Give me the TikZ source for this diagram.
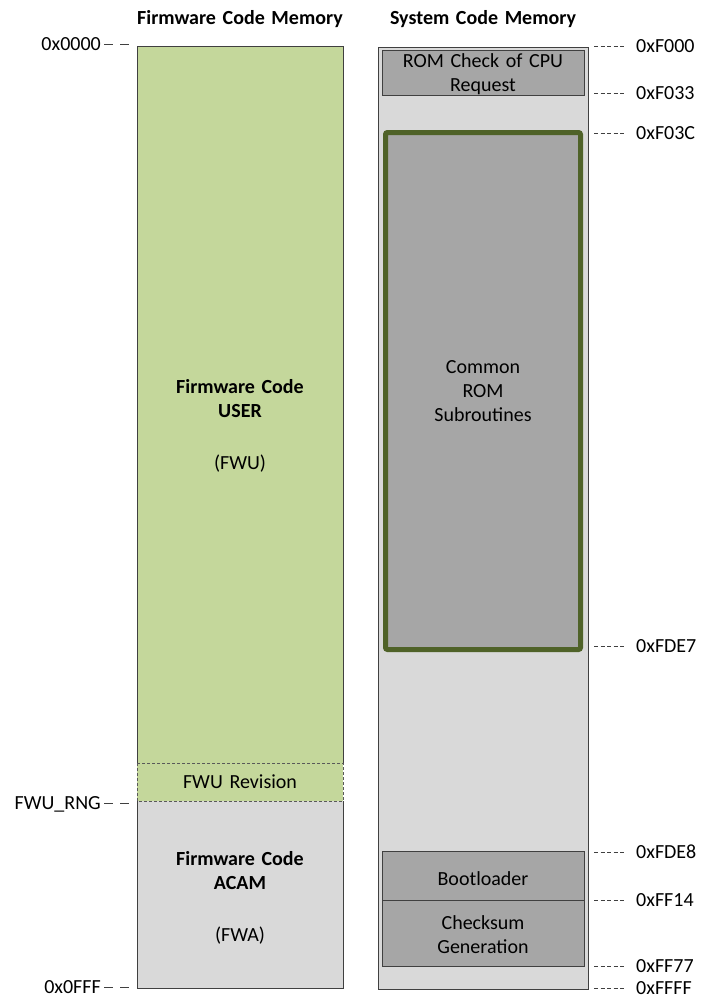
\documentclass[tikz,border=0pt]{standalone}
\usepackage{fontspec}
\setmainfont{Carlito}
\definecolor{greenfill}{HTML}{C4D79B}
\definecolor{grayfill}{HTML}{D9D9D9}
\definecolor{darkfill}{HTML}{A6A6A6}
\definecolor{oliveline}{HTML}{4F6228}
\definecolor{outl}{HTML}{404040}
\definecolor{dashgray}{HTML}{595959}
\begin{document}
\begin{tikzpicture}[x=1pt,y=-1pt,
  txt/.style={font=\fontsize{20}{24}\selectfont, inner sep=0pt, text width=200pt, align=center, anchor=base},
  lbl/.style={font=\fontsize{20}{24}\selectfont, inner sep=0pt, text height=13pt, text depth=0pt},
  blk/.style={draw=outl, line width=0.9pt},
  revbox/.style={draw=dashgray, line width=0.8pt, dash pattern=on 3pt off 2pt},
  ldash/.style={draw=outl, line width=0.9pt, dash pattern=on 9pt off 7pt},
  rdash/.style={draw=outl, line width=0.9pt, dash pattern=on 4pt off 2.5pt}]
\useasboundingbox[fill=white] (0,0) rectangle (707,998);

% headers
\node[txt, font=\fontsize{20}{24}\selectfont\bfseries, text width=260pt] (hfw) at (240,25) {Firmware Code Memory};
\node[txt, font=\fontsize{20}{24}\selectfont\bfseries, text width=260pt] (hsys) at (483,25) {System Code Memory};

% left column
\fill[greenfill] (137,46) rectangle (343,763);
\draw[blk] (137,763) -- (137,46) -- (343,46) -- (343,763);
\fill[grayfill] (137,801) rectangle (343,988);
\draw[blk] (137,801) -- (137,988) -- (343,988) -- (343,801);
\draw[revbox, fill=greenfill] (137,763) rectangle (343,801);

\node[txt, font=\fontsize{20}{24}\selectfont] (fwu) at (240,393) {\textbf{Firmware Code}\\\textbf{USER}\\[28pt](FWU)};
\node[txt] (rev) at (240,788) {FWU Revision};
\node[txt, font=\fontsize{20}{24}\selectfont] (fwa) at (240,865) {\textbf{Firmware Code}\\\textbf{ACAM}\\[28pt](FWA)};

% right column
\draw[blk, fill=grayfill] (378,47) rectangle (588,989);
\draw[blk, fill=darkfill] (382,50) rectangle (584,95);
\draw[line width=5pt, draw=oliveline, fill=darkfill, rounded corners=2pt] (385.5,132.5) rectangle (580.5,649.5);
\draw[blk, fill=darkfill] (382,851) rectangle (584,900);
\draw[blk, fill=darkfill] (382,900) rectangle (584,966);

\node[txt] (romchk) at (483,67) {ROM Check of CPU\\Request};
\node[txt] (common) at (483,373) {Common\\ROM\\Subroutines};
\node[txt] (boot) at (483,885) {Bootloader};
\node[txt] (chk) at (483,929) {Checksum\\Generation};

% left labels
\node[lbl, anchor=east] (l0000) at (101,44) {0x0000};
\coordinate (t0000) at (132,44);
\draw[ldash] ([xshift=3pt]l0000.east) -- (t0000);
\node[lbl, anchor=east] (lrng) at (101,803) {FWU\_RNG};
\coordinate (trng) at (132,803);
\draw[ldash] ([xshift=3pt]lrng.east) -- (trng);
\node[lbl, anchor=east] (l0fff) at (101,987) {0x0FFF};
\coordinate (t0fff) at (132,987);
\draw[ldash] ([xshift=3pt]l0fff.east) -- (t0fff);

% right labels
\foreach \nm/\yy/\tx in {f000/46/0xF000, f033/93/0xF033, f03c/133/0xF03C, fde7/646/0xFDE7, fde8/852/0xFDE8, ff14/900/0xFF14, ff77/966/0xFF77, ffff/988/0xFFFF}{
  \node[lbl, anchor=west] (r\nm) at (636,\yy) {\tx};
  \coordinate (s\nm) at (594,\yy);
  \draw[rdash] (s\nm) -- ([xshift=-11pt]r\nm.west);
}
\end{tikzpicture}
\end{document}
